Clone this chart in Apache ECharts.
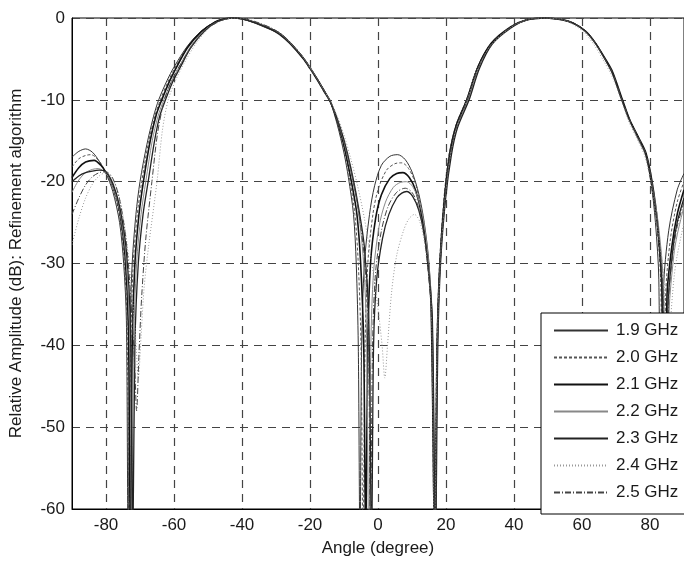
<!DOCTYPE html>
<html>
<head>
<meta charset="utf-8">
<script src="https://cdn.jsdelivr.net/npm/echarts@6/dist/echarts.min.js"></script>
<style>
  html, body { margin: 0; padding: 0; background: #fff; }
  #chart { width: 684px; height: 562px; }
</style>
</head>
<body>
<div id="chart"></div>
<script>
var names = ['1.9 GHz', '2.0 GHz', '2.1 GHz', '2.2 GHz', '2.3 GHz', '2.4 GHz', '2.5 GHz'];
var xTicks = [-80, -60, -40, -20, 0, 20, 40, 60, 80];

// [angle (deg), relative amplitude (dB)]; -65 = deep null (clipped)
var f19 = [[-90,-17.0],[-88,-16.3],[-86,-16.0],[-84,-16.4],[-82,-17.5],[-80,-19.0],[-78,-21.2],[-76,-25.0],[-74.8,-30],[-74,-37],[-73.5,-65],[-73.0,-40],[-72.3,-30],[-71.2,-24],[-70,-20],[-68,-15.5],[-66,-12],[-64.5,-10],[-62,-7.6],[-60,-6],[-56,-3.4],[-52,-1.6],[-48,-0.5],[-45,-0.1],[-42.5,0],[-40,-0.1],[-36,-0.6],[-32,-1.2],[-29,-1.8],[-26,-2.9],[-22,-4.8],[-20,-6.0],[-18,-7.3],[-16,-8.7],[-14,-10.3],[-12,-13],[-10,-16.5],[-8.7,-19.5],[-7.2,-24],[-6.4,-30],[-5.8,-40],[-5.3,-65],[-4.8,-40],[-4,-30],[-2.5,-24],[-1,-20.5],[1,-18],[3.5,-16.9],[5.8,-16.7],[8,-17.3],[10,-18.8],[12,-21.5],[13.6,-25],[15,-30],[16,-38],[16.8,-65],[17.4,-40],[18.2,-30],[19.5,-22],[21,-16.5],[23,-13],[26,-10],[29.3,-6],[33.3,-3.1],[39,-1.1],[44,-0.2],[49.3,0],[54,-0.2],[57.3,-0.6],[61,-1.6],[64,-3.1],[67,-5.2],[69,-6.8],[71.8,-10],[74,-12.4],[76.5,-14.5],[78.8,-16.6],[80.3,-20],[81.6,-25],[82.6,-32],[83.2,-65],[84,-33],[85.5,-26],[88,-21],[90,-19]];
var f20 = [[-90,-18.2],[-88,-17.2],[-86,-16.8],[-84.4,-16.7],[-82,-17.5],[-80,-18.9],[-78,-20.8],[-76,-24.2],[-74.6,-30],[-73.8,-38],[-73.2,-65],[-72.7,-40],[-72,-30],[-70.8,-24],[-69.5,-20],[-67.5,-15.2],[-65.5,-11.8],[-64,-10],[-62,-8],[-60,-6.3],[-56,-3.5],[-52,-1.6],[-48,-0.5],[-45,-0.1],[-42.5,0],[-40,-0.1],[-36,-0.6],[-32,-1.2],[-29,-1.9],[-26,-3.0],[-22,-4.9],[-20,-6.1],[-18,-7.4],[-16,-8.8],[-14,-10.3],[-12,-12.8],[-10,-16],[-8.4,-19.5],[-6.8,-24],[-5.8,-30],[-5,-40],[-4.4,-65],[-3.8,-40],[-3,-30],[-1.5,-24],[0,-21],[2.5,-18.6],[5,-17.8],[7,-17.7],[9,-18.4],[11,-20.2],[12.8,-23.5],[14.3,-28],[15.6,-35],[16.6,-65],[17.3,-40],[18.1,-30],[19.4,-22],[21,-16.4],[23,-13],[26,-10],[29.3,-6],[33.3,-3.1],[39,-1.1],[44,-0.2],[49,0],[54,-0.2],[57.3,-0.6],[61,-1.6],[64,-3.1],[67,-5.2],[69,-6.7],[71.8,-10],[74,-12.5],[76.5,-14.6],[78.8,-16.7],[80.5,-20],[82,-25],[83.2,-33],[83.8,-65],[84.6,-34],[86,-27],[88,-22.5],[90,-20]];
var f21 = [[-90,-19.5],[-88,-18.3],[-86,-17.6],[-83.5,-17.4],[-81.5,-18],[-80,-18.9],[-78,-20.5],[-76,-23.6],[-74.4,-29],[-73.4,-38],[-72.8,-65],[-72.3,-40],[-71.5,-30],[-70.3,-24],[-69,-20],[-67,-15],[-65.2,-11.8],[-63.6,-10],[-61.5,-7.9],[-60,-6.6],[-56,-3.6],[-52,-1.7],[-48,-0.5],[-45,-0.1],[-42.5,0],[-40,-0.1],[-36,-0.6],[-32,-1.3],[-29,-1.9],[-26,-3.0],[-22,-4.9],[-20,-6.1],[-18,-7.4],[-16,-8.8],[-14,-10.2],[-12,-12.5],[-10,-15.6],[-8,-19.6],[-6.2,-24],[-5.1,-30],[-4.2,-40],[-3.6,-65],[-3,-40],[-2.2,-30],[-0.7,-24.5],[1,-21.6],[3.5,-19.6],[5.5,-19],[7.3,-18.9],[9.2,-19.5],[11,-21],[12.8,-24],[14.3,-28.5],[15.6,-35],[16.7,-65],[17.4,-40],[18.2,-30],[19.6,-22],[21.2,-16.6],[23,-13.2],[26.2,-10],[29.4,-6],[33.3,-3.1],[39,-1.1],[44,-0.2],[49.3,0],[54,-0.2],[57.3,-0.6],[61,-1.6],[64,-3.1],[67,-5.1],[69,-6.6],[71.9,-10],[74,-12.4],[76.5,-14.5],[78.8,-16.5],[80.6,-20],[82.2,-25],[83.5,-33],[84.2,-65],[85,-34],[86.4,-28],[88,-24],[90,-21]];
var f22 = [[-90,-21.3],[-88,-19.8],[-86,-18.9],[-84,-18.5],[-82.3,-18.4],[-80,-19.0],[-78,-20.6],[-76,-23.5],[-74.3,-28.5],[-73.1,-38],[-72.4,-65],[-71.9,-40],[-71,-30],[-69.7,-24],[-68.3,-20],[-66.4,-15],[-64.7,-12],[-63,-10],[-61,-8],[-59,-6.4],[-55,-3.4],[-51,-1.5],[-47,-0.4],[-42.5,0],[-40,-0.1],[-36,-0.6],[-32,-1.3],[-29,-1.9],[-26,-3.0],[-22,-4.9],[-20,-6.0],[-18,-7.4],[-16,-8.8],[-14,-10.2],[-12,-12.4],[-10,-15.2],[-8,-18.8],[-6,-23],[-4.4,-29],[-3.4,-38],[-2.7,-65],[-2.1,-40],[-1.3,-31],[0.3,-25.5],[2.2,-22.5],[4.5,-20.7],[6.5,-20.1],[8.4,-20],[10.2,-20.6],[12,-22.3],[13.5,-25],[14.8,-29.5],[15.9,-36],[16.8,-65],[17.5,-40],[18.3,-30],[19.8,-22],[21.4,-16.7],[23.2,-13.4],[26.5,-10],[29.6,-6.1],[33.5,-3.2],[39,-1.2],[44,-0.2],[49.5,0],[54,-0.2],[57.3,-0.6],[61,-1.7],[64,-3.2],[67,-5.3],[69,-6.9],[71.6,-10],[73.8,-12.4],[76.2,-14.6],[78.6,-16.7],[80.4,-20],[82.4,-25],[84,-33],[84.8,-65],[85.6,-36],[87,-29],[88,-26.5],[90,-23]];
var f23 = [[-90,-20],[-88,-19.3],[-86,-18.9],[-84,-18.7],[-82,-18.6],[-80,-18.8],[-78,-20.2],[-76,-23],[-74,-28.5],[-72.8,-38],[-72.1,-65],[-71.5,-40],[-70.5,-30],[-69.1,-24],[-67.6,-20],[-65.8,-15.2],[-64.2,-12],[-62.5,-10],[-60.5,-7.9],[-58.5,-6.3],[-55,-3.6],[-51,-1.6],[-47,-0.4],[-43,0],[-40,-0.1],[-36,-0.6],[-32,-1.3],[-29,-2],[-26,-3.1],[-22,-5],[-20,-6.2],[-18,-7.5],[-16,-8.9],[-14,-10.3],[-12,-12.3],[-10,-14.9],[-8,-18.3],[-6,-22.5],[-4,-28],[-2.7,-37],[-1.9,-65],[-1.3,-40],[-0.4,-32],[1.3,-27],[3.2,-24],[5.5,-22],[7,-21.4],[8.4,-21.2],[10.2,-21.8],[12,-23.5],[13.6,-26.5],[14.9,-31],[16,-37],[16.9,-65],[17.6,-40],[18.4,-30],[19.9,-22],[21.6,-16.7],[23.4,-13.4],[26.8,-10],[29.8,-6.2],[33.6,-3.2],[39.2,-1.2],[44,-0.2],[49.3,0],[54,-0.2],[57.3,-0.6],[61,-1.6],[64,-3.1],[67,-5.2],[69,-6.8],[71.7,-10],[73.9,-12.4],[76.4,-14.5],[78.7,-16.6],[80.3,-20],[82.2,-25.5],[83.6,-34],[84.5,-65],[85.3,-35],[86.8,-28],[88,-25],[90,-22]];
var f24 = [[-90,-27.7],[-88,-24.5],[-86,-22],[-84,-20.3],[-82,-19.3],[-80,-18.9],[-78,-19.7],[-76,-22],[-74,-27],[-72.5,-33],[-71.3,-39],[-70.5,-44],[-69.7,-39],[-68.8,-33],[-67.5,-28],[-65,-20],[-63.4,-13.7],[-61.7,-10],[-59.5,-7.6],[-57,-5.5],[-53,-2.8],[-49,-1],[-45,-0.2],[-42,0],[-39,-0.1],[-35,-0.6],[-31,-1.3],[-28,-2.1],[-25,-3.3],[-22,-4.8],[-20,-6.1],[-18,-7.4],[-16,-8.8],[-14,-10.2],[-12,-12],[-10,-14.3],[-8,-17.2],[-6,-20.5],[-4,-24.5],[-2,-29.5],[0,-35.5],[1.2,-40],[2,-44],[2.8,-40],[4,-33.5],[5.5,-29],[7.5,-26],[9,-24.6],[10.7,-24],[12.2,-24.8],[13.5,-27],[14.6,-30.5],[15.7,-36],[16.6,-65],[17.3,-42],[18.2,-31],[19.5,-23],[21.2,-17],[23,-13.5],[26,-10.2],[29.3,-6.2],[33.3,-3.3],[39,-1.2],[44,-0.2],[49,0],[54,-0.2],[57,-0.7],[60.5,-1.7],[63.6,-3.3],[66.6,-5.4],[68.7,-7],[71.5,-10],[73.6,-12.5],[76,-14.6],[78.4,-16.8],[80.2,-20],[82.2,-25.5],[84.2,-33],[85.3,-65],[86,-38],[87,-32],[88,-29],[90,-25]];
var f25 = [[-90,-24],[-88,-22],[-86,-20.4],[-84,-19.4],[-82,-18.9],[-80,-18.8],[-78,-19.6],[-76,-22.2],[-74,-27.5],[-72.6,-35],[-71.6,-42],[-71,-48],[-70.3,-41],[-69.5,-34],[-68.3,-27],[-66.5,-20],[-64.8,-14],[-62.8,-10],[-60.5,-7.5],[-58,-5.6],[-54,-3],[-50,-1.2],[-46,-0.3],[-42.5,0],[-39,-0.1],[-35,-0.6],[-31,-1.3],[-28,-2.1],[-25,-3.3],[-22,-4.8],[-20,-6.1],[-18,-7.4],[-16,-8.8],[-14,-10.3],[-12,-12.4],[-10,-15.1],[-8,-18.5],[-6,-22.8],[-4.2,-28.5],[-2.9,-37],[-2.2,-65],[-1.6,-40],[-0.7,-31],[1,-26],[3,-23],[5.5,-21.3],[8,-20.8],[10,-21.3],[11.8,-23],[13.4,-26],[14.7,-30.5],[15.8,-37],[16.8,-65],[17.5,-40],[18.3,-30],[19.7,-22],[21.3,-16.6],[23.1,-13.3],[26.3,-10],[29.5,-6.1],[33.4,-3.1],[39,-1.1],[44,-0.2],[49.3,0],[54,-0.2],[57.3,-0.6],[61,-1.6],[64,-3.1],[67,-5.2],[69,-6.7],[71.8,-10],[74,-12.4],[76.5,-14.5],[78.8,-16.6],[80.6,-20],[82.3,-25.5],[83.8,-33.5],[84.6,-65],[85.4,-35],[86.8,-28.5],[88,-25.5],[90,-22.5]];

var allData = [f19, f20, f21, f22, f23, f24, f25];
var styles = [
    { color: '#333', width: 1, type: 'solid' },
    { color: '#555', width: 1, type: [3, 2] },
    { color: '#111', width: 1.6, type: 'solid' },
    { color: '#888', width: 1, type: 'solid' },
    { color: '#222', width: 1.3, type: 'solid' },
    { color: '#999', width: 1, type: [1, 2] },
    { color: '#444', width: 1, type: [6, 2, 1, 2] }
];

var font = 'Liberation Sans, Arial, sans-serif';
var myChart = echarts.init(document.getElementById('chart'));

var series = names.map(function (n, i) {
    return {
        name: n,
        type: 'line',
        data: allData[i],
        symbol: 'none',
        smooth: 0.3,
        color: styles[i].color,
        lineStyle: styles[i]
    };
});

option = {
    animation: false,
    backgroundColor: '#fff',
    grid: {
        left: 72,
        top: 18,
        width: 619,
        height: 492,
        show: true,
        borderColor: '#000',
        borderWidth: 1
    },
    legend: {
        data: names,
        orient: 'vertical',
        left: 541,
        top: 313,
        itemWidth: 54,
        itemHeight: 14,
        itemGap: 10,
        padding: [9, 24, 13, 12],
        backgroundColor: '#fff',
        borderColor: '#000',
        borderWidth: 1,
        borderRadius: 0,
        itemStyle: { opacity: 0 },
        textStyle: { fontFamily: font, fontSize: 17, color: '#1a1a1a', padding: [0, 0, 0, 3] }
    },
    xAxis: {
        type: 'value',
        min: -90,
        max: 90,
        name: 'Angle (degree)',
        nameLocation: 'middle',
        nameGap: 31,
        nameTextStyle: { fontFamily: font, fontSize: 17, color: '#1a1a1a' },
        axisLine: { onZero: false, lineStyle: { color: '#000', width: 1 } },
        axisTick: { show: false, customValues: xTicks },
        axisLabel: { customValues: xTicks, fontFamily: font, fontSize: 17, color: '#1a1a1a', margin: 8 },
        splitLine: { show: true, lineStyle: { color: '#444', width: 1.2, type: [8, 6] } }
    },
    yAxis: {
        type: 'value',
        min: -60,
        max: 0,
        interval: 10,
        name: 'Relative Amplitude (dB): Refinement algorithm',
        nameLocation: 'middle',
        nameGap: 47,
        nameTextStyle: { fontFamily: font, fontSize: 17, color: '#1a1a1a' },
        axisLine: { show: true, onZero: false, lineStyle: { color: '#000', width: 1 } },
        axisTick: { show: false },
        axisLabel: { fontFamily: font, fontSize: 17, color: '#1a1a1a', margin: 7 },
        splitLine: { show: true, lineStyle: { color: '#444', width: 1.2, type: [8, 6] } }
    },
    series: series
};
myChart.setOption(option);
</script>
</body>
</html>
